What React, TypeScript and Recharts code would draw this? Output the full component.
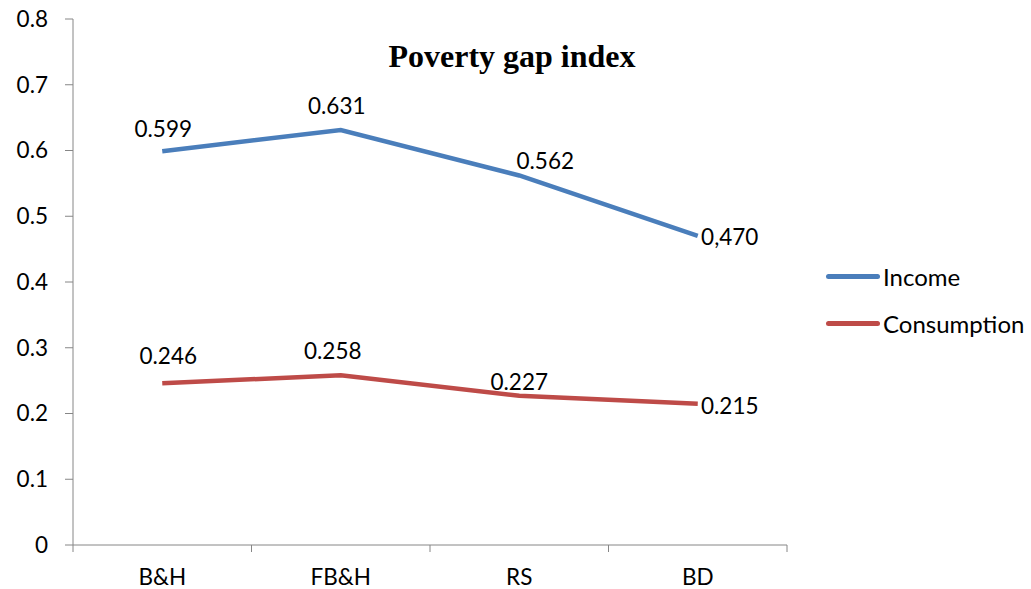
import { LineChart, Line, XAxis, YAxis } from "recharts";

const categories = ["B&H", "FB&H", "RS", "BD"];
const income = [0.599, 0.631, 0.562, 0.47];
const consumption = [0.246, 0.258, 0.227, 0.215];
const incomeLabels = ["0.599", "0.631", "0.562", "0,470"];
const consumptionLabels = ["0.246", "0.258", "0.227", "0.215"];
const yTicks = [0, 0.1, 0.2, 0.3, 0.4, 0.5, 0.6, 0.7, 0.8];

const data = categories.map((c, i) => ({
  x: i,
  name: c,
  Income: income[i],
  Consumption: consumption[i],
}));

// x ticks: integers carry the category name, half steps carry only a tick mark
const xTicks = [-0.5, 0, 0.5, 1, 1.5, 2, 2.5, 3, 3.5];

const BLUE = "#4a7ebb";
const RED = "#be4b48";
const AXIS = "#868686";
const FONT = "Lato, 'Noto Sans', sans-serif";
const FS = 22.5;

// label offsets from the point, as placed in the original chart
const incomeOffsets = [[1, -23], [-4, -25], [26, -15], [32, 1]];
const consumptionOffsets = [[6, -28], [-8, -25], [0, -14], [32, 2]];

function XTick(props: any) {
  const { x, y, payload } = props;
  const v = payload.value;
  if (Number.isInteger(v)) {
    return (
      <text x={x} y={y + 40} textAnchor="middle" fontSize={FS} fontFamily={FONT} fill="#000">
        {categories[v]}
      </text>
    );
  }
  return <line x1={x} y1={y} x2={x} y2={y + 7} stroke={AXIS} strokeWidth={1} />;
}

function makeLabel(texts: string[], offsets: number[][]) {
  return (props: any) => {
    const { x, y, index } = props;
    const [dx, dy] = offsets[index];
    return (
      <text
        x={x + dx}
        y={y + dy}
        textAnchor="middle"
        dominantBaseline="central"
        fontSize={FS}
        fontFamily={FONT}
        fill="#000"
      >
        {texts[index]}
      </text>
    );
  };
}

export default function App() {
  return (
    <div style={{ position: "absolute", left: 0, top: 0, width: 1031, height: 589, background: "#fff" }}>
      <LineChart width={1031} height={589} data={data} margin={{ top: 19, right: 244, left: 0, bottom: 0 }}>
        <XAxis
          dataKey="x"
          type="number"
          domain={[-0.5, 3.5]}
          ticks={xTicks}
          interval={0}
          height={44}
          tickLine={false}
          tickSize={0}
          tickMargin={0}
          axisLine={{ stroke: AXIS, strokeWidth: 1 }}
          tick={<XTick />}
        />
        <YAxis
          domain={[0, 0.8]}
          ticks={yTicks}
          interval={0}
          width={73}
          tickSize={8}
          tickMargin={17}
          tickLine={{ stroke: AXIS }}
          axisLine={{ stroke: AXIS, strokeWidth: 1 }}
          tick={{ fontSize: FS, fontFamily: FONT, fill: "#000" }}
          tickFormatter={(v: number) => (v === 0 ? "0" : v.toFixed(1))}
        />
        <Line
          dataKey="Income"
          stroke={BLUE}
          strokeWidth={4.5}
          dot={false}
          isAnimationActive={false}
          label={makeLabel(incomeLabels, incomeOffsets)}
        />
        <Line
          dataKey="Consumption"
          stroke={RED}
          strokeWidth={4.5}
          dot={false}
          isAnimationActive={false}
          label={makeLabel(consumptionLabels, consumptionOffsets)}
        />
      </LineChart>
      <div
        style={{
          position: "absolute",
          left: 0,
          width: 1024,
          top: 36,
          textAlign: "center",
          fontFamily: "'Liberation Serif', 'Times New Roman', serif",
          fontWeight: "bold",
          fontSize: 32,
          lineHeight: "40px",
          color: "#000",
        }}
      >
        Poverty gap index
      </div>
      {[
        { name: "Income", color: BLUE, top: 276 },
        { name: "Consumption", color: RED, top: 323 },
      ].map((l) => (
        <div key={l.name} style={{ position: "absolute", left: 826, top: l.top - 15, height: 30, display: "flex", alignItems: "center" }}>
          <div style={{ width: 54, height: 5, borderRadius: 3, background: l.color }} />
          <span style={{ marginLeft: 3, fontFamily: FONT, fontSize: 24, color: "#000" }}>{l.name}</span>
        </div>
      ))}
    </div>
  );
}
